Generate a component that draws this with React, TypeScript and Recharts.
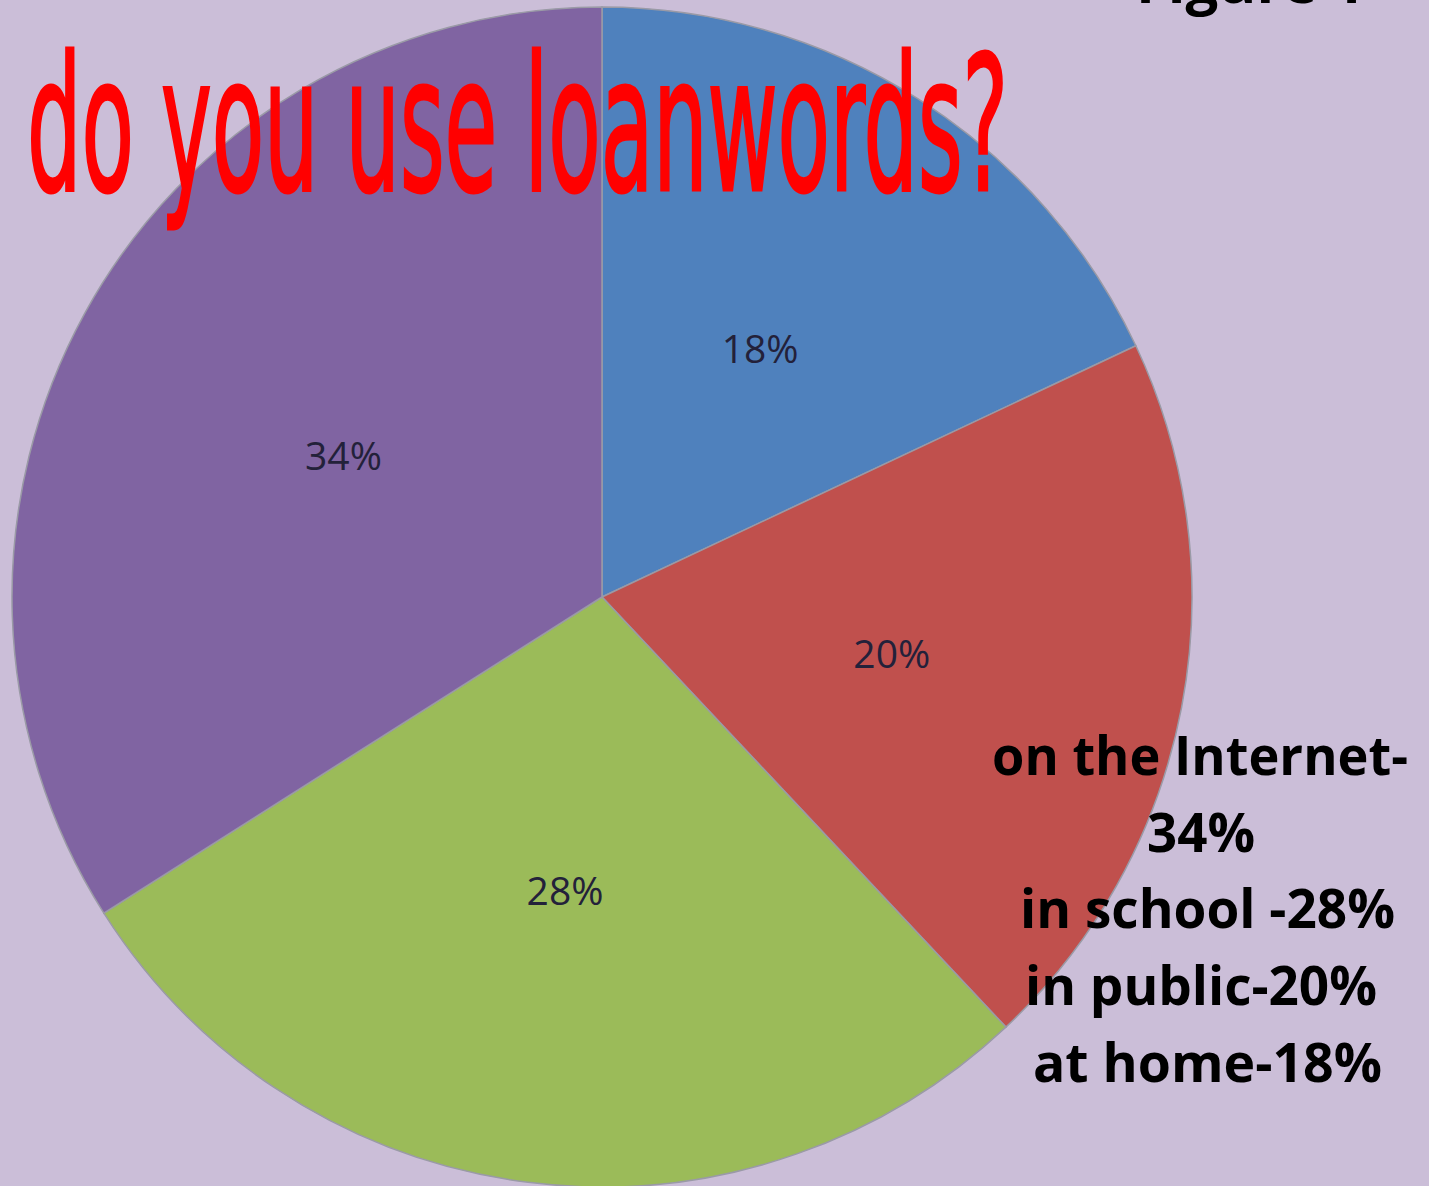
import { PieChart, Pie, Cell } from 'recharts'

// places where loanwords are used, clockwise from 12 o'clock
const places = ['at home', 'in public', 'in school', 'on the Internet']
const shares = [18, 20, 28, 34]
const sliceColors = ['#4f81bd', '#c0504d', '#9bbb59', '#8064a2']

// note text on the right, as written in the original
const noteLines = ['on the Internet-', '34%', 'in school -28%', 'in public-20%', 'at home-18%']
const noteSpans = [
  [992, 1408],
  [1147, 1255],
  [1020, 1395],
  [1025, 1377],
  [1033, 1382],
]
const noteBaselines = [775, 852, 928, 1005, 1082]

const titleText = 'do you use loanwords?'
const figureText = 'Figure 1'

const W = 1429
const H = 1186
const RADIAN = Math.PI / 180

const data = places.map((name, i) => ({ name, value: shares[i] }))

const renderLabel = (props: any) => {
  const { cx, cy, midAngle, outerRadius, value } = props
  const r = outerRadius * 0.5
  const x = cx + r * Math.cos(-midAngle * RADIAN)
  const y = cy + r * Math.sin(-midAngle * RADIAN)
  return (
    <text
      x={x}
      y={y}
      textAnchor="middle"
      dominantBaseline="central"
      fill="#23213a"
      style={{ fontFamily: 'Open Sans, sans-serif', fontSize: 39 }}
    >
      {value}%
    </text>
  )
}

export default function App() {
  return (
    <div
      style={{
        position: 'absolute',
        top: 0,
        left: 0,
        width: W,
        height: H,
        background: '#cbbed8',
        overflow: 'hidden',
      }}
    >
      <PieChart width={W} height={H} margin={{ top: 0, right: 0, bottom: 0, left: 0 }}>
        <Pie
          data={data}
          dataKey="value"
          nameKey="name"
          cx={602}
          cy={597}
          outerRadius={590}
          startAngle={90}
          endAngle={-270}
          stroke="#9a9aa6"
          strokeWidth={1.5}
          label={renderLabel}
          labelLine={false}
          isAnimationActive={false}
        >
          {data.map((d, i) => (
            <Cell key={d.name} fill={sliceColors[i]} />
          ))}
        </Pie>
      </PieChart>

      {/* title, notes and the cut-off caption sit over the pie */}
      <svg
        width={W}
        height={H}
        style={{ position: 'absolute', top: 0, left: 0, pointerEvents: 'none' }}
      >
        <text
          x={27}
          y={190}
          textLength={981}
          lengthAdjust="spacingAndGlyphs"
          fill="#ff0000"
          stroke="#ff0000"
          strokeWidth={3}
          style={{ fontFamily: 'DejaVu Sans Condensed, DejaVu Sans, sans-serif', fontWeight: 400, fontSize: 188 }}
        >
          {titleText}
        </text>
        <text
          x={1136}
          y={3}
          fill="#000"
          style={{ fontFamily: 'Open Sans, sans-serif', fontWeight: 700, fontSize: 58 }}
        >
          {figureText}
        </text>
        {noteLines.map((line, i) => (
          <text
            key={line}
            x={noteSpans[i][0]}
            y={noteBaselines[i]}
            textLength={noteSpans[i][1] - noteSpans[i][0]}
            lengthAdjust="spacingAndGlyphs"
            fill="#000"
            style={{ fontFamily: 'Open Sans, sans-serif', fontWeight: 700, fontSize: 54 }}
          >
            {line}
          </text>
        ))}
      </svg>
    </div>
  )
}
